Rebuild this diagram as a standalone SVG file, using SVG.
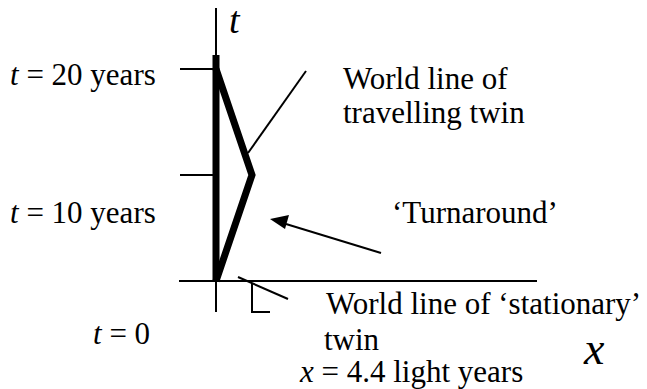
<svg xmlns="http://www.w3.org/2000/svg" width="647" height="389" viewBox="0 0 647 389">
<style>
.thin{stroke:#000;stroke-width:2;fill:none}
.thick{stroke:#000;stroke-width:7;fill:none;stroke-linejoin:miter}
text{font-family:'Liberation Serif','Times New Roman',serif;fill:#000}
.it{font-style:italic}
</style>
<g id="axes">
<line class="thin" x1="216" y1="8" x2="216" y2="312"/>
<line class="thin" x1="179" y1="281" x2="537" y2="281"/>
<line class="thin" x1="180" y1="69" x2="216" y2="69"/>
<line class="thin" x1="180" y1="175" x2="216" y2="175"/>
<polyline class="thin" points="252,283 252,312 270,312"/>
</g>
<g id="stationary-worldline">
<line class="thick" x1="216" y1="55" x2="216" y2="281"/>
</g>
<g id="travelling-worldline">
<polyline class="thick" points="216,281 252,175 216,69"/>
</g>
<g id="connectors">
<line class="thin" x1="306" y1="71" x2="248" y2="153"/>
<line class="thin" x1="381" y1="253" x2="286" y2="224"/>
<path d="M270,219 L289,215 L285,229 Z" fill="#000"/>
<line class="thin" x1="238" y1="277" x2="288" y2="299"/>
</g>
<g id="labels" font-size="31">
<text class="it" x="229" y="33" font-size="38">t</text>
<text x="10" y="85"><tspan class="it">t</tspan> = 20 years</text>
<text x="10" y="223"><tspan class="it">t</tspan> = 10 years</text>
<text x="93" y="344"><tspan class="it">t</tspan> = 0</text>
<text x="343" y="89">World line of</text>
<text x="343" y="123">travelling twin</text>
<text x="392" y="223">‘Turnaround’</text>
<text x="326" y="314">World line of ‘stationary’</text>
<text x="324" y="350">twin</text>
<text x="300" y="382"><tspan class="it">x</tspan> = 4.4 light years</text>
<text class="it" x="584" y="364" font-size="46">x</text>
</g>
</svg>
